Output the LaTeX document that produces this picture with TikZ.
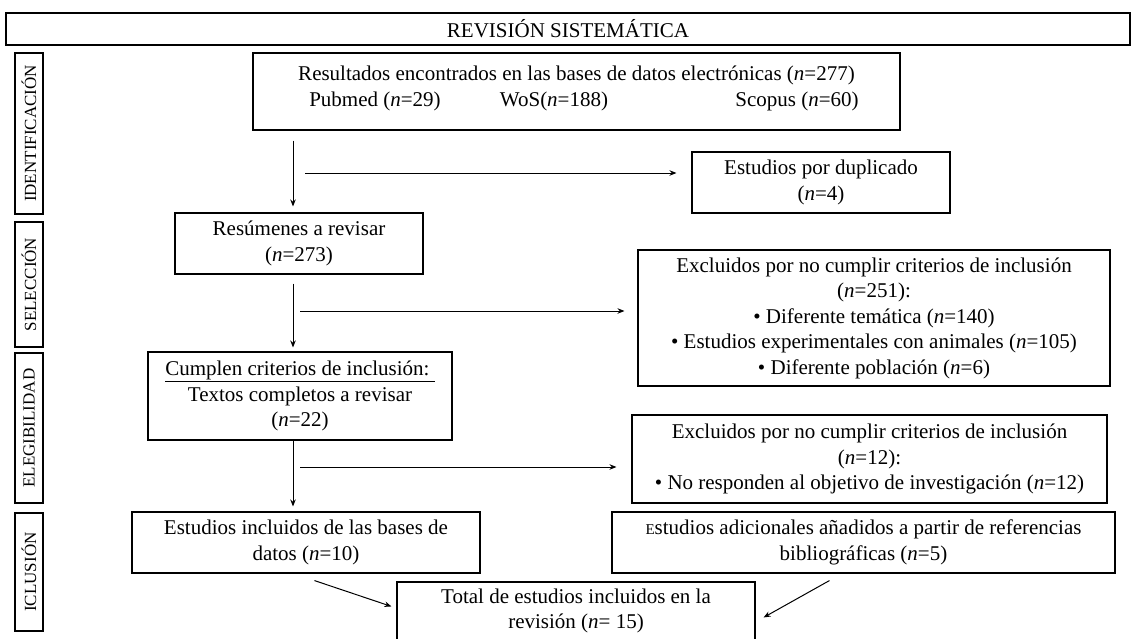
\documentclass[tikz,border=0pt]{standalone}
\usepackage{fontspec}
\setmainfont{Liberation Serif}
\usetikzlibrary{arrows.meta,calc}
\begin{document}
\begin{tikzpicture}[x=1pt,y=-1pt,
  box/.style={draw, line width=1.1pt, inner sep=0pt, align=center, font=\fontsize{21}{25.5}\selectfont},
  side/.style={draw, line width=1.1pt, inner sep=0pt, rotate=90, minimum height=28pt, font=\fontsize{17}{20}\selectfont},
  arr/.style={line width=1pt, -{Stealth[length=7pt,width=5.5pt]}}]
\fill[white] (0,0) rectangle (1131,638);
\useasboundingbox (0,0) rectangle (1131,638);

% header
\node[box, minimum width=1124pt, minimum height=32pt] (head) at (568,29) {REVISIÓN SISTEMÁTICA};

% side labels
\node[side, minimum width=161pt] (ident) at (29,133.5) {IDENTIFICACIÓN};
\node[side, minimum width=125pt] (selec) at (29,284.5) {SELECCIÓN};
\node[side, minimum width=150pt] (eleg) at (29,428) {ELEGIBILIDAD};
\node[side, minimum width=118pt] (iclu) at (29,572) {ICLUSIÓN};

% boxes
\node[box, minimum width=647pt, minimum height=77pt] (res) at (576.5,91.5)
  {\parbox[c][77pt][t]{647pt}{\centering\vspace{13pt}Resultados encontrados en las bases de datos electrónicas (\textit{n}=277)\\
   \hbox to 647pt{\hbox to 244pt{\hss Pubmed (\textit{n}=29)\hss}\hbox to 114pt{\hss WoS(\textit{n}=188)\hss}\hbox to 372pt{\hss Scopus (\textit{n}=60)\hss}\hss}}};
\node[box, minimum width=258pt, minimum height=61pt] (dup) at (821,182.5)
  {Estudios por duplicado\\(\textit{n}=4)};
\node[box, minimum width=248pt, minimum height=61pt] (resum) at (299,243.5)
  {Resúmenes a revisar\\(\textit{n}=273)};
\node[box, minimum width=472pt, minimum height=136pt] (ex1) at (874,318)
  {Excluidos por no cumplir criterios de inclusión\\(\textit{n}=251):\\• Diferente temática (\textit{n}=140)\\• Estudios experimentales con animales (\textit{n}=105)\\• Diferente población (\textit{n}=6)};
\node[box, minimum width=304pt, minimum height=88pt] (cump) at (300,396)
  {\underline{Cumplen criterios de inclusión:\ }\\Textos completos a revisar\\(\textit{n}=22)};
\node[box, minimum width=475pt, minimum height=88pt] (ex2) at (869.5,459)
  {Excluidos por no cumplir criterios de inclusión\\(\textit{n}=12):\\• No responden al objetivo de investigación (\textit{n}=12)};
\node[box, minimum width=348pt, minimum height=61pt] (incl) at (306,542.5)
  {Estudios incluidos de las bases de\\datos (\textit{n}=10)};
\node[box, minimum width=503pt, minimum height=61pt] (adic) at (863.5,542.5)
  {{\fontsize{15}{15}\selectfont E}studios adicionales añadidos a partir de referencias\\bibliográficas (\textit{n}=5)};
\node[box, minimum width=358pt, minimum height=58pt] (total) at (576,611)
  {Total de estudios incluidos en la\\revisión (\textit{n}= 15)};

% connectors
\coordinate (v1) at (293,0);
\draw[arr, shorten <=10pt, shorten >=6pt] (res.south -| v1) -- (resum.north -| v1);
\draw[arr, shorten <=9pt, shorten >=4pt] (resum.south -| v1) -- (cump.north -| v1);
\draw[arr, shorten >=5pt] (cump.south -| v1) -- (incl.north -| v1);

\coordinate (h1) at (305,173);
\draw[arr, shorten >=15pt] (h1) -- (h1 -| dup.west);
\coordinate (h2) at (300,311);
\draw[arr, shorten >=13pt] (h2) -- (h2 -| ex1.west);
\coordinate (h3) at (300,467);
\draw[arr, shorten >=15pt] (h3) -- (h3 -| ex2.west);

\coordinate (d1) at ($(incl.south west)+(183,7)$);
\draw[arr] (d1) -- ($(total.north west)+(-5,25)$);
\coordinate (d2) at ($(adic.south west)+(218,7)$);
\draw[arr] (d2) -- ($(total.north east)+(8,36)$);
\end{tikzpicture}
\end{document}
